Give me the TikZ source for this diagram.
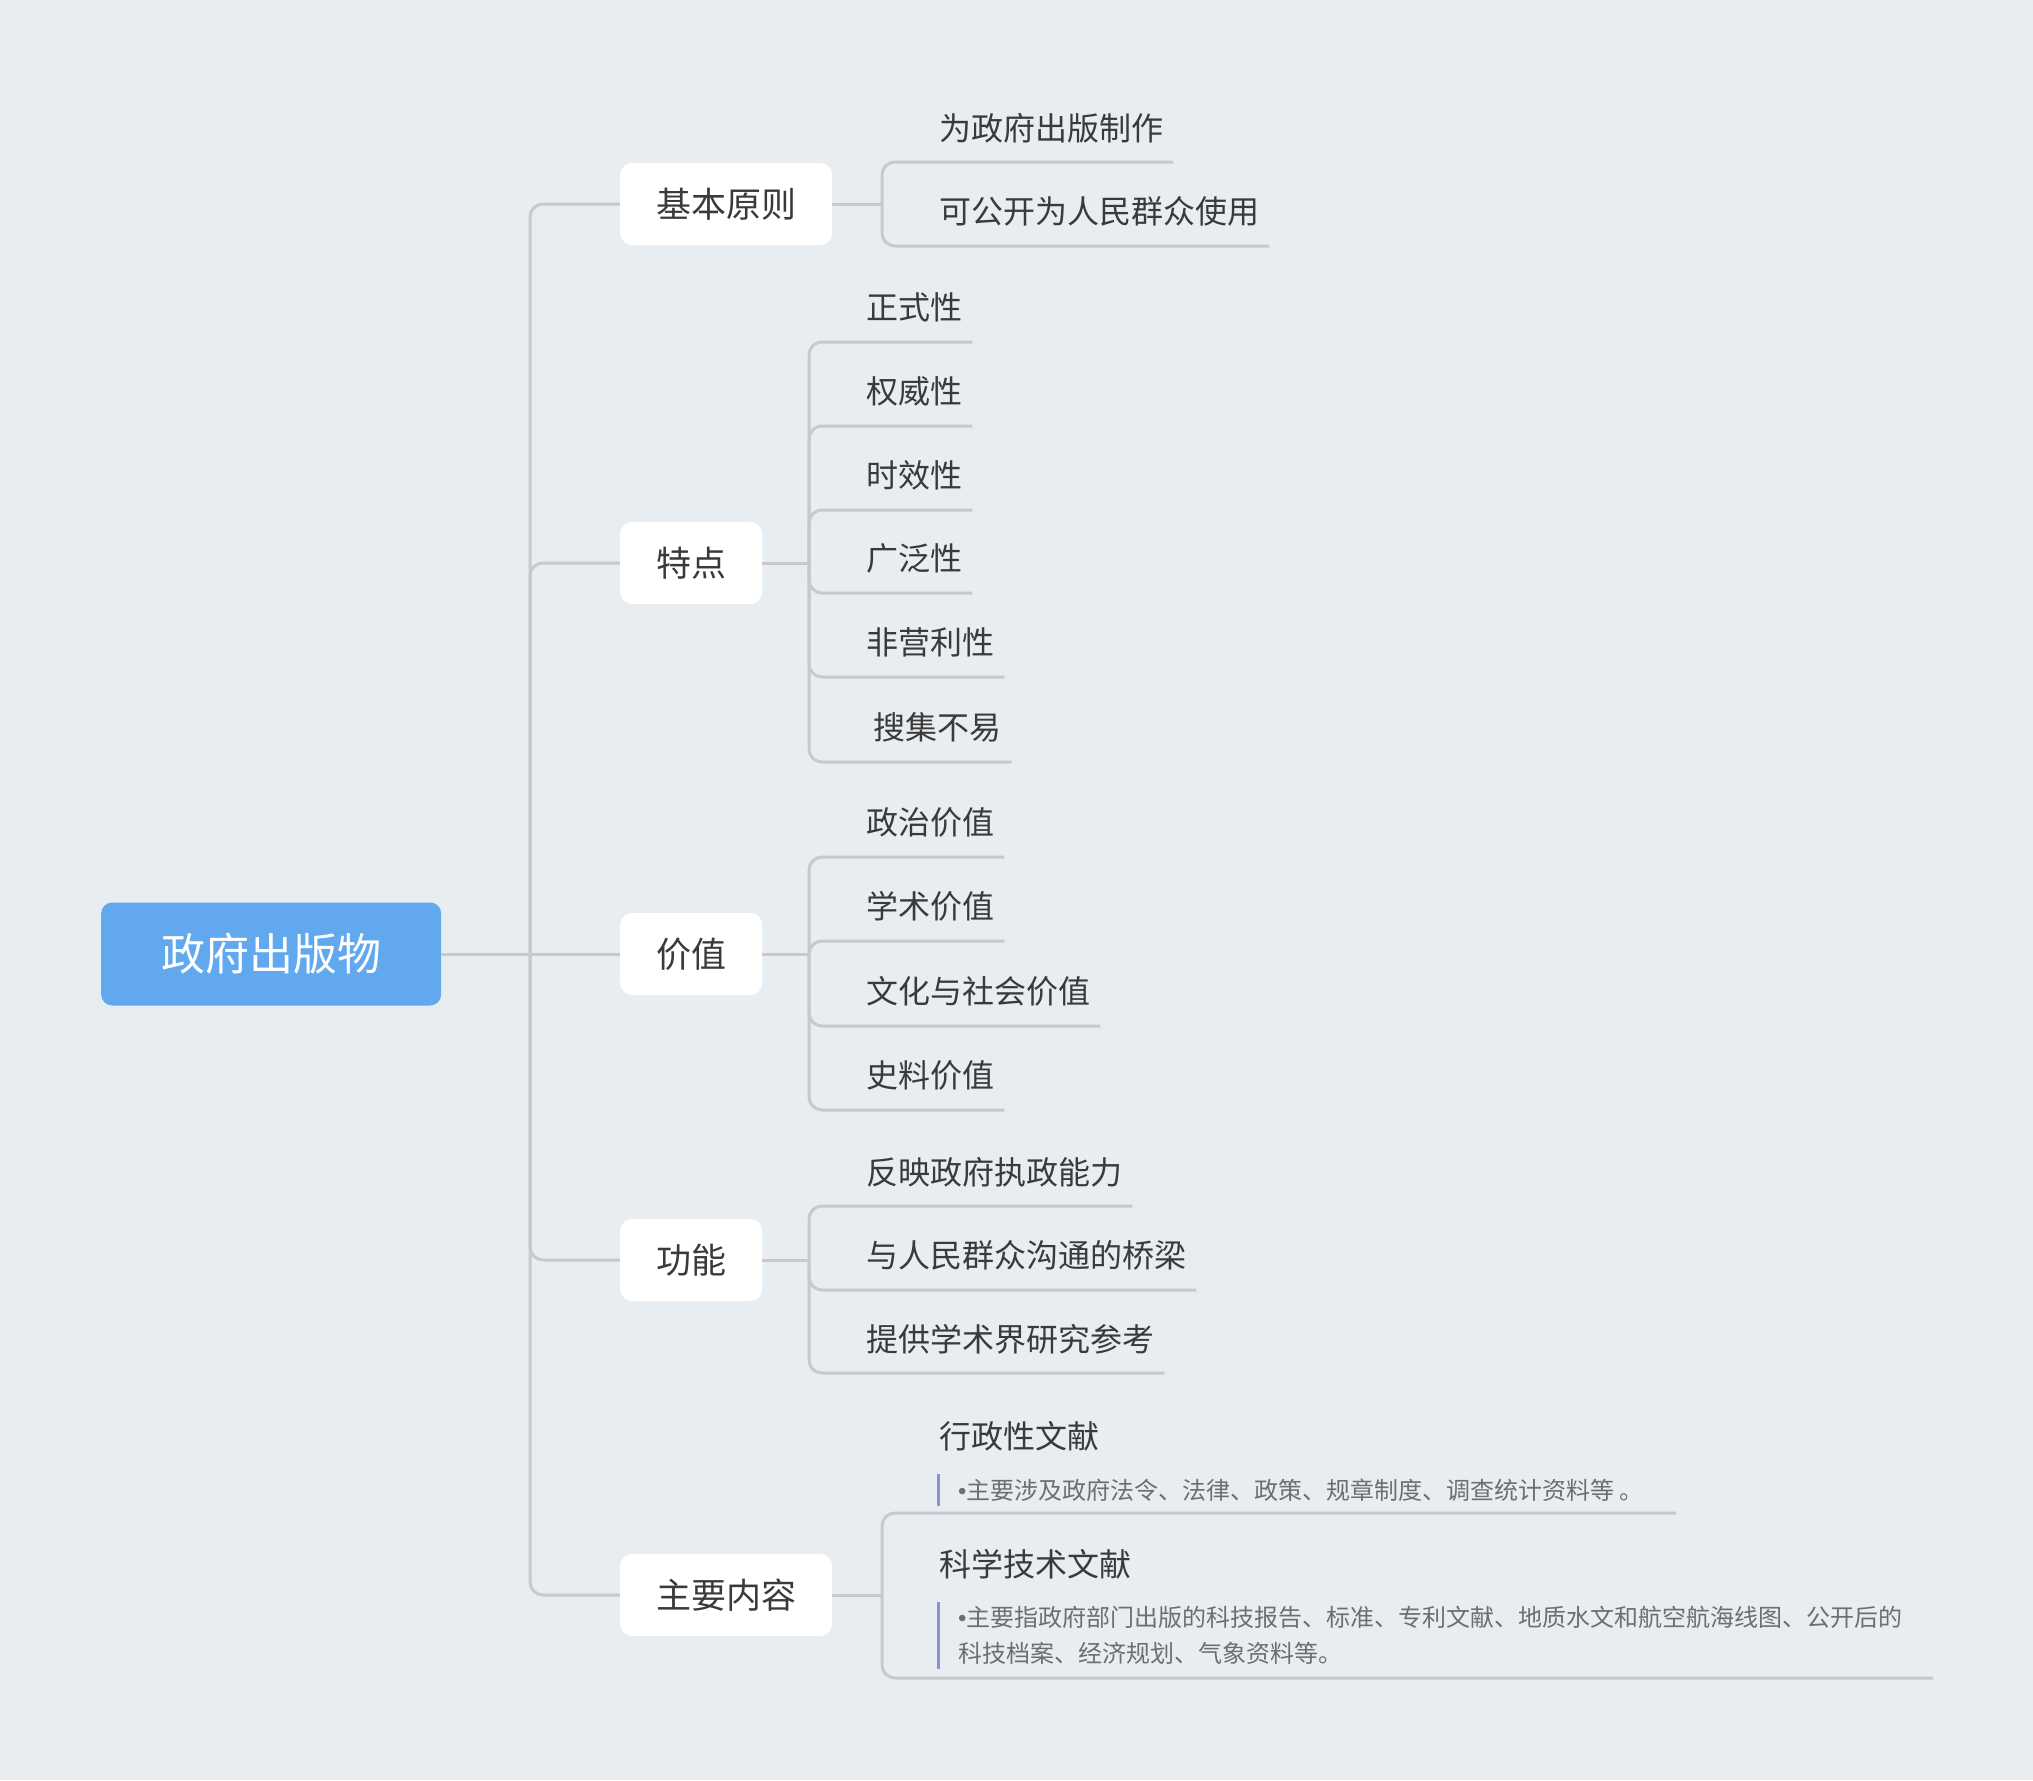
\documentclass[tikz,border=0pt]{standalone}
\usepackage{fontspec}
\setmainfont{Noto Sans CJK SC}
\newfontfamily\bulletfont{Liberation Sans}
\newcommand{\nbul}{{\bulletfont •}}
\definecolor{bg}{HTML}{E8EDF1}
\definecolor{ln}{HTML}{C8C8CE}
\definecolor{rootc}{HTML}{62A8EE}
\definecolor{txt}{HTML}{3A3A3A}
\definecolor{notec}{HTML}{6E6E6E}
\definecolor{barc}{HTML}{8E8ED6}
\begin{document}
\begin{tikzpicture}[x=1pt,y=-1pt,
  conn/.style={draw=ln, line width=3pt, rounded corners=13pt},
  rootbox/.style={fill=rootc, rounded corners=11pt, text=white, font=\fontsize{44}{50}\selectfont, inner xsep=60pt, inner ysep=0pt, minimum height=103pt, anchor=west},
  mainbox/.style={fill=white, rounded corners=12pt, text=txt, font=\fontsize{35}{40}\selectfont, inner xsep=36pt, inner ysep=0pt, minimum height=82pt, anchor=west},
  leaf/.style={text=txt, font=\fontsize{32}{38}\selectfont, inner xsep=10pt, inner ysep=0pt, minimum height=68pt, anchor=south west},
  title/.style={text=txt, font=\fontsize{32}{38}\selectfont, inner xsep=10pt, inner ysep=0pt, anchor=west},
  notebox/.style={text=notec, font=\fontsize{24}{36}\selectfont, align=left, inner xsep=20pt, inner ysep=0pt, anchor=west},
  barline/.style={draw=barc, line width=3pt}]
\fill[bg] (0,0) rectangle (2033,1780);

% root and main branches
\node[rootbox] (root) at (101,954) {政府出版物};
\node[mainbox] (b1) at (620,204) {基本原则};
\node[mainbox] (b2) at (620,563) {特点};
\node[mainbox] (b3) at (620,954) {价值};
\node[mainbox] (b4) at (620,1260) {功能};
\node[mainbox] (b5) at (620,1595) {主要内容};

\coordinate (t) at (530,954);
\draw[conn] (root.east) -- (b3.west);
\draw[conn] (t) |- (b1.west);
\draw[conn] (t) |- (b2.west);
\draw[conn] (t) |- (b4.west);
\draw[conn] (t) |- (b5.west);

% 基本原则
\coordinate (k1) at (882,204);
\draw[conn] (b1.east) -- (k1);
\node[leaf] (c11) at (929,162) {为政府出版制作};
\node[leaf] (c12) at (929,246) {可公开为人民群众使用};
\draw[conn] (k1) |- (c11.south east);
\draw[conn] (k1) |- (c12.south east);

% 特点
\coordinate (k2) at (809,563);
\draw[conn] (b2.east) -- (k2);
\node[leaf] (c21) at (856,342) {正式性};
\node[leaf] (c22) at (856,426) {权威性};
\node[leaf] (c23) at (856,510) {时效性};
\node[leaf] (c24) at (856,593) {广泛性};
\node[leaf] (c25) at (856,677) {非营利性};
\node[leaf] (c26) at (856,762) {\ 搜集不易};
\foreach \c in {c21,c22,c23,c24,c25,c26} \draw[conn] (k2) |- (\c.south east);

% 价值
\coordinate (k3) at (809,954);
\draw[conn] (b3.east) -- (k3);
\node[leaf] (c31) at (856,857) {政治价值};
\node[leaf] (c32) at (856,941) {学术价值};
\node[leaf] (c33) at (856,1026) {文化与社会价值};
\node[leaf] (c34) at (856,1110) {史料价值};
\foreach \c in {c31,c32,c33,c34} \draw[conn] (k3) |- (\c.south east);

% 功能
\coordinate (k4) at (809,1260);
\draw[conn] (b4.east) -- (k4);
\node[leaf] (c41) at (856,1206) {反映政府执政能力};
\node[leaf] (c42) at (856,1290) {与人民群众沟通的桥梁};
\node[leaf] (c43) at (856,1373) {提供学术界研究参考};
\foreach \c in {c41,c42,c43} \draw[conn] (k4) |- (\c.south east);

% 主要内容
\coordinate (k5) at (882,1595);
\draw[conn] (b5.east) -- (k5);
\node[title] (c51) at (929,1436) {行政性文献};
\node[notebox, minimum height=32pt] (n51) at (938,1490) {\nbul 主要涉及政府法令、法律、政策、规章制度、调查统计资料等 。};
\draw[barline] (n51.north west) -- (n51.south west);
\coordinate (u51) at (1676,1513);
\draw[conn] (k5) |- (u51);

\node[title] (c52) at (929,1564) {科学技术文献};
\node[notebox, minimum height=67pt] (n52) at (938,1635.5) {\nbul 主要指政府部门出版的科技报告、标准、专利文献、地质水文和航空航海线图、公开后的\\科技档案、经济规划、气象资料等。};
\draw[barline] (n52.north west) -- (n52.south west);
\coordinate (u52) at (1933,1678);
\draw[conn] (k5) |- (u52);
\end{tikzpicture}
\end{document}
